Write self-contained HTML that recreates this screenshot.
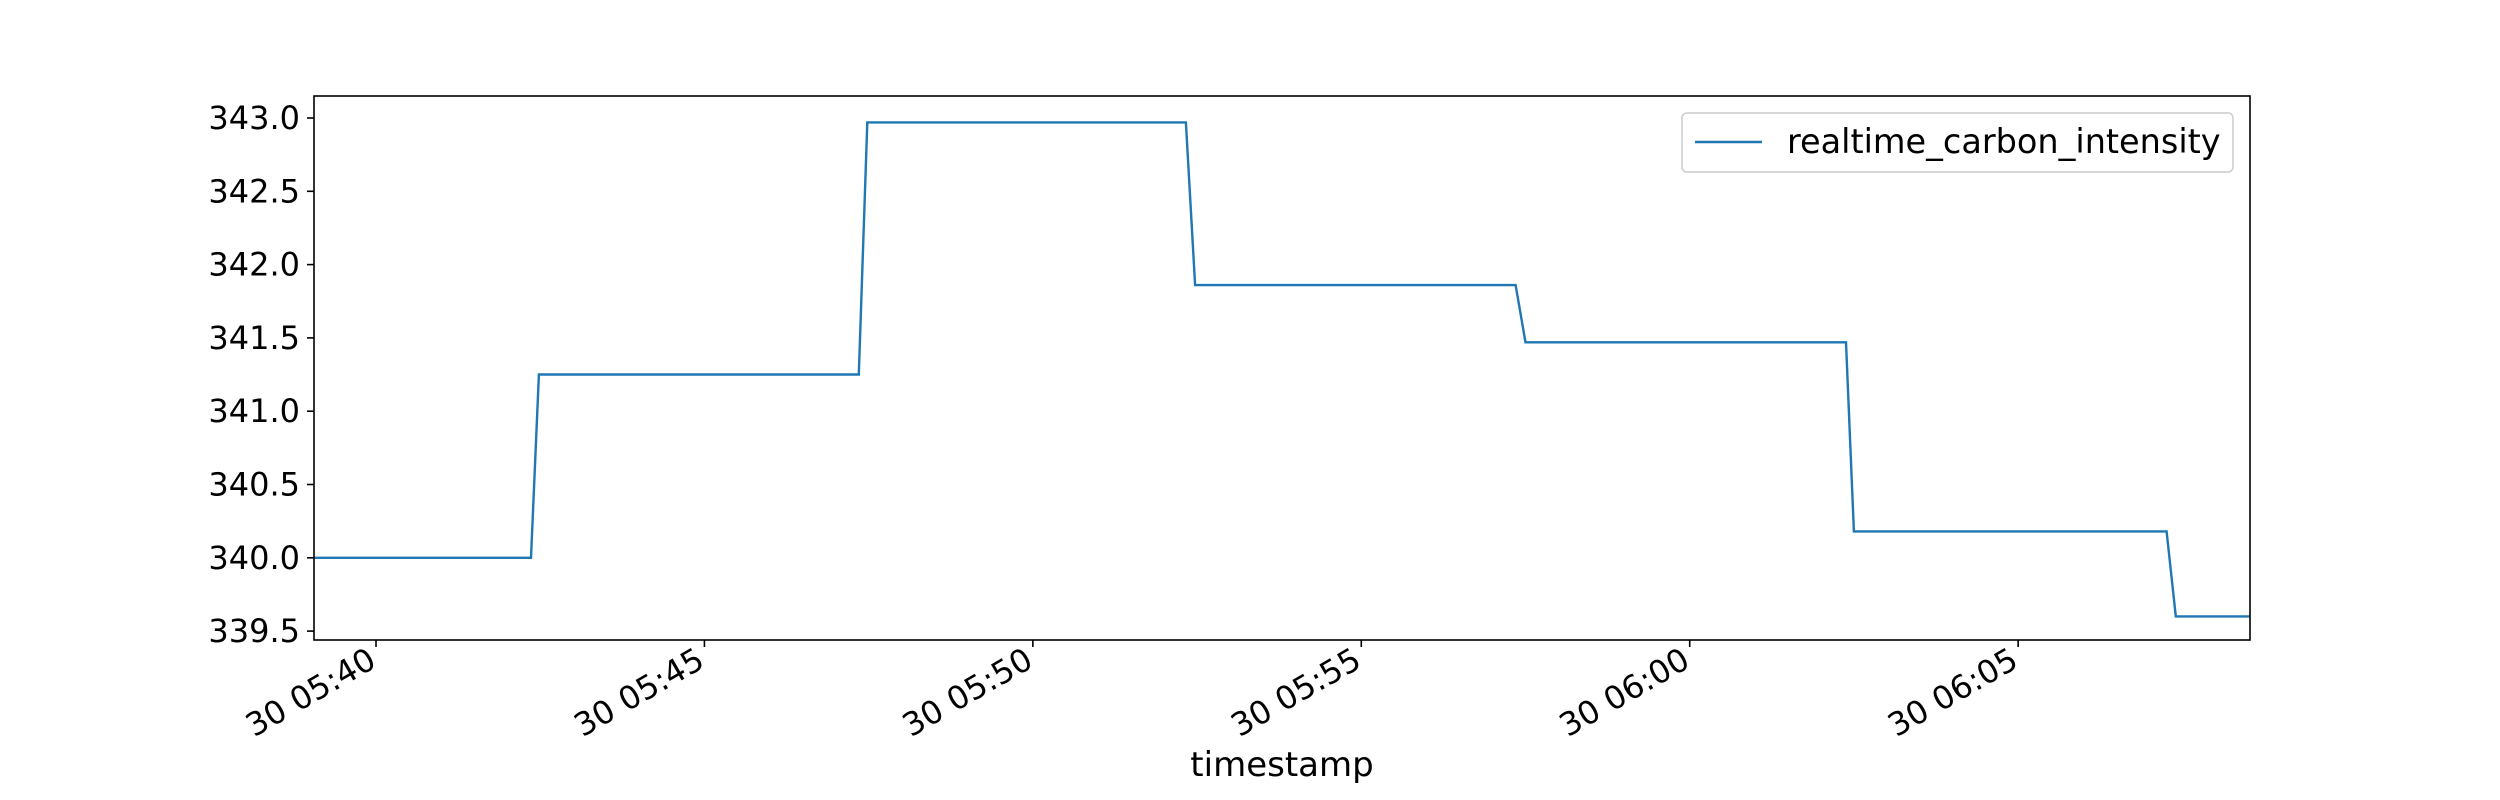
<!DOCTYPE html>
<html><head><meta charset="utf-8"><style>
html,body{margin:0;padding:0;background:#fff;}
svg{display:block;font-family:"DejaVu Sans","Liberation Sans",sans-serif;}
</style></head><body>
<svg id="chart" width="2500" height="800">
<rect x="0" y="0" width="2500" height="800" fill="#fff"/>
<g id="plot"></g>
</svg>
<script>
const tickMinutes = [0, 5, 10, 15, 20, 25];
const tickLabels = ["30 05:40","30 05:45","30 05:50","30 05:55","30 06:00","30 06:05"];
const yTicks = [339.5, 340.0, 340.5, 341.0, 341.5, 342.0, 342.5, 343.0];
const times = [-0.94, 2.36, 2.48, 7.35, 7.48, 12.33, 12.47, 17.35, 17.5, 22.38, 22.5, 27.26, 27.4, 28.53];
const values = [340.0, 340.0, 341.25, 341.25, 342.97, 342.97, 341.86, 341.86, 341.47, 341.47, 340.18, 340.18, 339.6, 339.6];
const seriesName = "realtime_carbon_intensity";

const L=314, R=2250, T=96, B=640;
const xMin=-0.944, xMax=28.53;
const X = m => L + (m - xMin) / (xMax - xMin) * (R - L);
const Y = v => 557.8 - (v - 340.0) / 0.5 * 73.3;
const NS="http://www.w3.org/2000/svg";
const g=document.getElementById('plot');
function mk(tag, attrs, parent){const e=document.createElementNS(NS,tag);for(const k in attrs)e.setAttribute(k,attrs[k]);(parent||g).appendChild(e);return e;}

let d = times.map((t,i)=>(i?'L':'M')+X(t).toFixed(1)+' '+Y(values[i]).toFixed(1)).join(' ');
const line = mk('path',{d:d,fill:'none',stroke:'#1f77b4','stroke-width':2.4});



const frame = mk('rect',{x:L,y:T,width:R-L,height:B-T,fill:'none',stroke:'#000','stroke-width':1.6});



yTicks.forEach(v=>{
  const y=Y(v);
  const tk = mk('line',{x1:L-7,x2:L,y1:y,y2:y,stroke:'#000','stroke-width':1.6});
  
  
  const t = mk('text',{x:L-14,y:y+11,'text-anchor':'end','font-size':32,fill:'#000'});
  t.textContent=v.toFixed(1);
  
  
});
tickMinutes.forEach((m,i)=>{
  const x=X(m);
  const tk = mk('line',{x1:x,x2:x,y1:B,y2:B+7,stroke:'#000','stroke-width':1.6});
  
  
  const t = mk('text',{x:0,y:0,'text-anchor':'end','font-size':32,fill:'#000',transform:`translate(${x+2},${B+26}) rotate(-30)`});
  t.textContent=tickLabels[i];
  
  
});
const xl = mk('text',{x:(L+R)/2,y:776,'text-anchor':'middle','font-size':34,fill:'#000'});
xl.textContent='timestamp';



const lg = mk('g',{});


mk('rect',{x:1682,y:113,width:551,height:59,rx:5,fill:'#fff',stroke:'#ccc','stroke-width':1.5},lg);
const ll = mk('line',{x1:1695,x2:1762,y1:142,y2:142,stroke:'#1f77b4','stroke-width':2.4},lg);


const lt = mk('text',{x:1787,y:153,'font-size':33.5,fill:'#000'},lg);
lt.textContent=seriesName;


</script>
</body></html>
